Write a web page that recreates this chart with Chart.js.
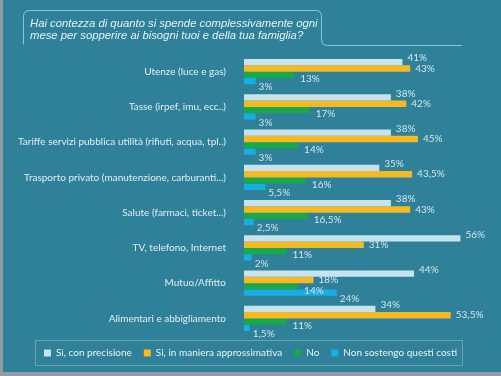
<!DOCTYPE html>
<html><head><meta charset="utf-8">
<script src="https://cdn.jsdelivr.net/npm/chart.js@4/dist/chart.umd.min.js"></script>
<style>html,body{margin:0;padding:0;background:#2f8099}#wrap{width:501px;height:376px;position:relative}</style>
</head><body><div id="wrap"><canvas id="c"></canvas></div>
<script>
const titleLines = ["Hai contezza di quanto si spende complessivamente ogni", "mese per sopperire ai bisogni tuoi e della tua famiglia?"];
const categories = ["Utenze (luce e gas)", "Tasse (irpef, imu, ecc..)", "Tariffe servizi pubblica utilità (rifiuti, acqua, tpl..)", "Trasporto privato (manutenzione, carburanti...)", "Salute (farmaci, ticket...)", "TV, telefono, Internet", "Mutuo/Affitto", "Alimentari e abbigliamento"];
const seriesNames = ["Si, con precisione", "Si, in maniera approssimativa", "No", "Non sostengo questi costi"];
const conPrecisione = [41, 38, 38, 35, 38, 56, 44, 34];
const approssimativa = [43, 42, 45, 43.5, 43, 31, 18, 53.5];
const no = [13, 17, 14, 16, 16.5, 11, 14, 11];
const nonSostengo = [3, 3, 3, 5.5, 2.5, 2, 24, 1.5];
const colors = ["#c6e4ef", "#f6b921", "#19a84a", "#17ade6"];

const fmt = v => String(v).replace('.', ',') + '%';
const labelDy = [-4, 0, 4, 6];
const labelDx = [5, 5, 6, 3];

const panelPlugin = {
  id: 'panel',
  beforeDraw(chart) {
    const ctx = chart.ctx;
    ctx.save();
    ctx.fillStyle = '#2f8099';
    ctx.fillRect(0, 0, chart.width, chart.height);
    ctx.fillStyle = '#8e9ea4';
    ctx.fillRect(0, 0, 3, chart.height);
    ctx.fillRect(0, chart.height - 4, chart.width, 4);
    ctx.strokeStyle = '#86c6da';
    ctx.lineWidth = 1;
    ctx.beginPath();
    const l = 23.5, t = 10.5, r = 321.5, b = 45.5, rad = 6;
    ctx.moveTo(l, b - 1);
    ctx.lineTo(l, t + rad);
    ctx.quadraticCurveTo(l, t, l + rad, t);
    ctx.lineTo(r - rad, t);
    ctx.quadraticCurveTo(r, t, r, t + rad);
    ctx.lineTo(r, b - rad);
    ctx.quadraticCurveTo(r, b, r + rad, b);
    ctx.lineTo(462, b);
    ctx.stroke();
    ctx.fillStyle = '#e6f2f6';
    ctx.font = 'italic 11.3px "Liberation Sans"';
    ctx.textBaseline = 'middle';
    ctx.textAlign = 'left';
    ctx.fillText(titleLines[0], 30, 24);
    ctx.fillText(titleLines[1], 30, 35.5);
    ctx.restore();
  },
  afterDraw(chart) {
    const ctx = chart.ctx;
    ctx.save();
    ctx.font = '10px Lato';
    ctx.fillStyle = '#d3e6ec';
    ctx.textBaseline = 'middle';
    ctx.textAlign = 'left';
    chart.data.datasets.forEach((ds, di) => {
      const meta = chart.getDatasetMeta(di);
      meta.data.forEach((bar, i) => {
        ctx.fillText(fmt(ds.data[i]), bar.x + labelDx[di], bar.y + labelDy[di]);
      });
    });
    const lg = chart.legend;
    if (lg && lg.legendHitBoxes && lg.legendHitBoxes.length) {
      const hb = lg.legendHitBoxes;
      const x0 = 35.5, x1 = 462.5;
      const y0 = hb[0].top - 7.5, y1 = hb[0].top + hb[0].height + 7.5;
      ctx.strokeStyle = '#9fcfae';
      ctx.setLineDash([1, 1]);
      ctx.strokeRect(x0, y0, x1 - x0, y1 - y0);
    }
    ctx.restore();
  }
};

const datasets = [conPrecisione, approssimativa, no, nonSostengo].map((d, i) => ({
  label: seriesNames[i], data: d, backgroundColor: colors[i], borderWidth: 0,
  categoryPercentage: 0.72, barPercentage: 1.0
}));

new Chart(document.getElementById('c'), {
  type: 'bar',
  data: { labels: categories, datasets },
  options: {
    indexAxis: 'y', responsive: true, maintainAspectRatio: false, animation: false,
    layout: { padding: { top: 54, bottom: 8, left: 0, right: 0 } },
    scales: {
      x: { display: false, min: 0, max: 66.5 },
      y: {
        grid: { display: false }, border: { display: false },
        ticks: { color: '#e2eff3', font: { family: 'Lato', size: 10 }, padding: 10 },
        afterFit(s) { s.width = 244; }
      }
    },
    plugins: {
      legend: {
        position: 'bottom',
        labels: { color: '#e8f3f6', font: { family: 'Lato', size: 10 }, boxWidth: 7, boxHeight: 7, padding: 12 }
      },
      tooltip: { enabled: false }
    }
  },
  plugins: [panelPlugin]
});
</script></body></html>
